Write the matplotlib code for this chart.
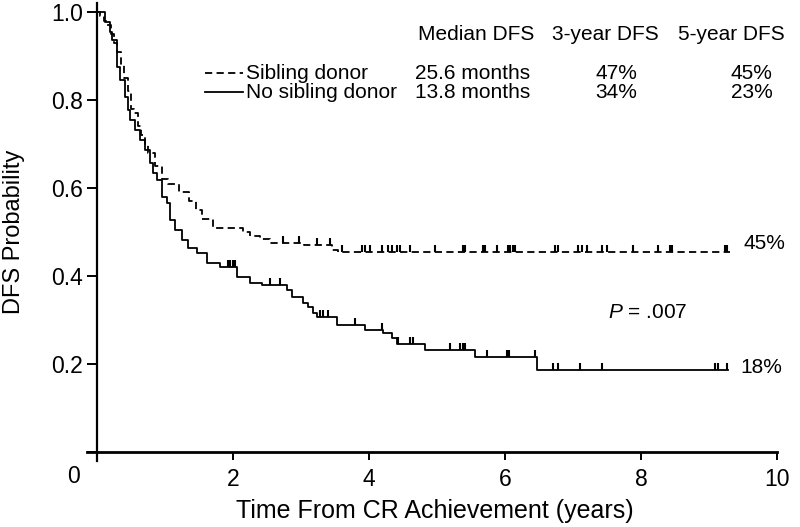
import matplotlib
matplotlib.use("Agg")
import matplotlib.pyplot as plt
import numpy as np

plt.rcParams["font.family"] = ["Liberation Sans", "DejaVu Sans"]
plt.rcParams["mathtext.fontset"] = "custom"
plt.rcParams["mathtext.rm"] = "Liberation Sans"
plt.rcParams["mathtext.it"] = "Liberation Sans:italic"

# Kaplan-Meier steps (years, DFS probability)
sib_t = [0, 0.05, 0.10, 0.15, 0.20, 0.25, 0.30, 0.35, 0.40, 0.45, 0.50, 0.55,
         0.60, 0.65, 0.70, 0.75, 0.85, 0.95, 1.05, 1.20, 1.35, 1.45, 1.55,
         1.70, 2.15, 2.25, 2.40, 2.55, 3.05, 3.45, 3.55]
sib_s = [1.0, 0.99, 0.98, 0.97, 0.95, 0.93, 0.91, 0.88, 0.85, 0.82, 0.78, 0.77,
         0.74, 0.72, 0.70, 0.68, 0.65, 0.62, 0.61, 0.59, 0.57, 0.55, 0.53,
         0.51, 0.50, 0.49, 0.485, 0.475, 0.47, 0.46, 0.455]
sib_end = 9.31
sib_cens = [2.74, 2.97, 3.24, 3.43, 3.60, 3.90, 3.94, 4.01, 4.19, 4.28, 4.34,
            4.41, 4.46, 4.60, 4.97, 5.38, 5.41, 5.68, 5.71, 5.88, 6.05, 6.08,
            6.11, 6.14, 6.74, 6.78, 7.07, 7.13, 7.21, 7.43, 7.50, 7.88, 8.25,
            8.43, 8.46, 9.24, 9.26]

nos_t = [0, 0.12, 0.19, 0.22, 0.29, 0.34, 0.41, 0.46, 0.49, 0.56, 0.63, 0.71,
         0.78, 0.82, 0.88, 0.96, 1.03, 1.07, 1.15, 1.25, 1.34, 1.47, 1.62,
         1.81, 2.06, 2.25, 2.43, 2.79, 2.87, 3.03, 3.10, 3.18, 3.24, 3.53,
         3.94, 4.21, 4.34, 4.41, 4.82, 5.56, 6.47]
nos_s = [1.0, 0.977, 0.955, 0.936, 0.875, 0.845, 0.807, 0.777, 0.755, 0.732,
         0.709, 0.686, 0.657, 0.634, 0.618, 0.58, 0.566, 0.527, 0.505, 0.482,
         0.464, 0.452, 0.43, 0.42, 0.398, 0.384, 0.38, 0.368, 0.352, 0.339,
         0.33, 0.316, 0.307, 0.289, 0.277, 0.27, 0.259, 0.245, 0.232, 0.216,
         0.186]
nos_end = 9.28
nos_cens = [1.93, 1.96, 2.00, 2.03, 2.54, 2.69, 3.28, 3.32, 3.40, 3.79, 4.19,
            4.43, 4.60, 4.65, 5.19, 5.34, 5.38, 5.41, 5.74, 6.03, 6.06, 6.44,
            6.71, 6.78, 7.10, 7.43, 9.09, 9.13, 9.26]

groups = ["Sibling donor", "No sibling donor"]
median_dfs = ["25.6 months", "13.8 months"]
dfs_3yr = ["47%", "34%"]
dfs_5yr = ["45%", "23%"]
end_labels = ["45%", "18%"]
p_text = "$P$ = .007"

fig = plt.figure(figsize=(8, 5.27), dpi=100)
ax = fig.add_axes([0.1085, 0.1256, 0.8628, 0.8683])


def step_at(times, surv, t):
    i = np.searchsorted(times, t, side="right") - 1
    return np.asarray(surv)[i]


def km(times, surv, end, cens, ls):
    x = list(times) + [end]
    y = list(surv) + [surv[-1]]
    ax.step(x, y, where="post", color="black", linewidth=1.3, linestyle=ls)
    cy = step_at(times, surv, np.array(cens))
    ax.vlines(cens, cy, cy + 0.016, color="black", linewidth=1.5)


km(sib_t, sib_s, sib_end, sib_cens, (0, (4.0, 2.4)))
km(nos_t, nos_s, nos_end, nos_cens, "-")

ax.set_xlim(-0.15, 10)
ax.set_ylim(-0.02, 1.02)
ax.spines["left"].set_position(("data", 0))
ax.spines["bottom"].set_position(("data", 0))
ax.spines["top"].set_visible(False)
ax.spines["right"].set_visible(False)
ax.spines["left"].set_linewidth(1.6)
ax.spines["bottom"].set_linewidth(2.0)

ax.set_xticks([0, 2, 4, 6, 8, 10])
ax.set_xticklabels(["", "2", "4", "6", "8", "10"])
ax.set_yticks([0, 0.2, 0.4, 0.6, 0.8, 1.0])
ax.set_yticklabels(["", "0.2", "0.4", "0.6", "0.8", "1.0"])
ax.tick_params(axis="both", direction="out", width=1.4, labelsize=16.5)
ax.tick_params(axis="x", length=6, pad=5.5)
ax.tick_params(axis="y", length=7, pad=3)
ax.text(-0.35, -0.055, "0", fontsize=16.5, ha="center", va="center")

ax.set_xlabel("Time From CR Achievement (years)", fontsize=18)
ax.xaxis.set_label_coords(0.504, -0.109)
ax.xaxis.label.set_va("center")
ax.set_ylabel("DFS Probability", fontsize=17)
ax.yaxis.set_label_coords(-0.105, 0.5)
ax.yaxis.label.set_va("center")

# summary table
fs = 15
ax.text(4.72, 0.95, "Median DFS", fontsize=fs, va="center")
ax.text(6.69, 0.95, "3-year DFS", fontsize=fs, va="center")
ax.text(8.54, 0.95, "5-year DFS", fontsize=fs, va="center")
rows_y = [0.861, 0.818]
styles = [(0, (4.0, 2.4)), "-"]
for i in range(2):
    ax.plot([1.59, 2.15], [rows_y[i], rows_y[i]], color="black",
            linewidth=1.3, linestyle=styles[i])
    ax.text(2.19, rows_y[i], groups[i], fontsize=fs, va="center")
    ax.text(4.68, rows_y[i], median_dfs[i], fontsize=fs, va="center")
    ax.text(7.64, rows_y[i], dfs_3yr[i], fontsize=fs, va="center", ha="center")
    ax.text(9.63, rows_y[i], dfs_5yr[i], fontsize=fs, va="center", ha="center")

ax.text(9.5, 0.473, end_labels[0], fontsize=fs, va="center")
ax.text(9.46, 0.193, end_labels[1], fontsize=fs, va="center")
ax.text(7.51, 0.316, p_text, fontsize=fs, va="center")

fig.savefig("out.png", dpi=100)
